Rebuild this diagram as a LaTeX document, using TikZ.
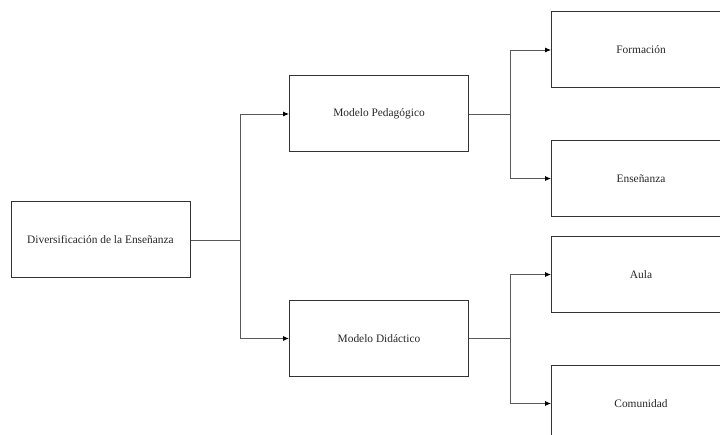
\documentclass[tikz,border=0pt]{standalone}
\usepackage{fontspec}
\setmainfont{Liberation Serif}
\usetikzlibrary{arrows.meta}
\begin{document}
\begin{tikzpicture}[x=1pt,y=-1pt,
  box/.style={draw=black!80,line width=1pt,rectangle,minimum width=179pt,minimum height=76pt,inner sep=0pt,font=\fontsize{11.4pt}{13pt}\selectfont,text=black!85},
  conn/.style={draw=black!65,line width=0.8pt},
  arr/.style={conn,-{Latex[length=6pt,width=5pt,color=black]}}]
\useasboundingbox (0,0) rectangle (720,435);
\clip (0,0) rectangle (720,435);
\node[box] (root) at (100.5,240) {Diversificación de la Enseñanza};
\node[box] (ped) at (379,114) {Modelo Pedagógico};
\node[box] (did) at (379,338.5) {Modelo Didáctico};
\node[box] (form) at (641,50) {Formación};
\node[box] (ens) at (641,178.5) {Enseñanza};
\node[box] (aula) at (641,274.5) {Aula};
\node[box] (com) at (641,403.5) {Comunidad};
\coordinate (j1) at (240,240);
\coordinate (j2) at (510,114);
\coordinate (j3) at (510,338.5);
\draw[conn] (root) -- (j1);
\draw[arr] (j1) |- (ped);
\draw[arr] (j1) |- (did);
\draw[conn] (ped) -- (j2);
\draw[arr] (j2) |- (form);
\draw[arr] (j2) |- (ens);
\draw[conn] (did) -- (j3);
\draw[arr] (j3) |- (aula);
\draw[arr] (j3) |- (com);
\end{tikzpicture}
\end{document}
